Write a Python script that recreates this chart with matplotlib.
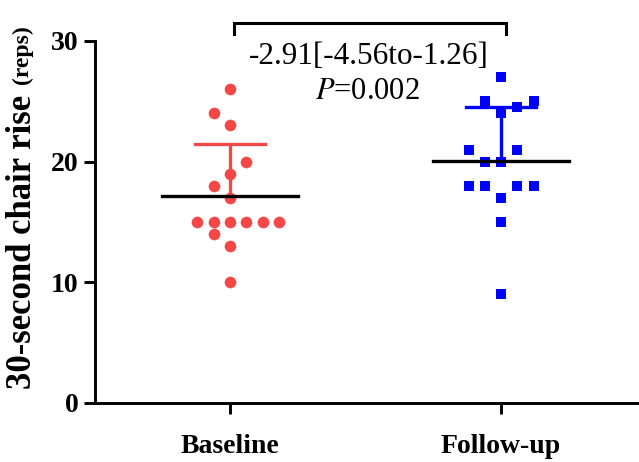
import numpy as np
import matplotlib.pyplot as plt

plt.rcParams['font.family'] = ['Liberation Serif', 'DejaVu Serif']
plt.rcParams['mathtext.fontset'] = 'stix'

# data
groups = ['Baseline', 'Follow-up']
baseline = [26, 24, 23, 20, 19, 18, 17, 15, 15, 15, 15, 15, 15, 14, 13, 10]
follow_up = [27, 25, 24.5, 25, 24, 21, 21, 20, 20, 18, 18, 18, 18, 17, 15, 9]
diff_text = '-2.91[-4.56to-1.26]'
p_text = r'$P$=0.002'
yticks = [0, 10, 20, 30]

# horizontal scatter slot of each point (same order as the values)
baseline_slots = [0, -1, 0, 1, 0, -1, 0, -2, -1, 0, 1, 2, 3, -1, 0, 0]
follow_slots = [0, -1, 1, 2, 0, -2, 1, -1, 0, -2, -1, 1, 2, 0, 0, 0]

fig = plt.figure(figsize=(6.39, 4.62), dpi=100)
ax = fig.add_axes([95 / 639, 59 / 462, 544 / 639, 362 / 462])

slot_w = 0.06
series = [
    (baseline, baseline_slots, '#f44848', 'o', 8.4),
    (follow_up, follow_slots, '#0000ff', 's', 7.4),
]
for i, (vals, slots, col, mk, ms) in enumerate(series):
    vals = np.array(vals, dtype=float)
    xs = i + np.array(slots) * slot_w
    ax.plot(xs, vals, mk, color=col, markersize=ms, markeredgewidth=0,
            linestyle='none', zorder=2, clip_on=False)
    m = vals.mean()
    sd = vals.std(ddof=1)
    # SD whisker (upper side only) and cap
    ax.plot([i, i], [m, m + sd], color=col, lw=2.4, zorder=3, solid_capstyle='butt')
    ax.plot([i - 0.13, i + 0.13], [m + sd, m + sd], color=col, lw=2.4, zorder=3)
    # mean line
    ax.plot([i - 0.252, i + 0.252], [m, m], color='black', lw=2.4, zorder=4)

# comparison bracket
ax.plot([0.016, 0.016, 1.017, 1.017], [30.6, 31.5, 31.5, 30.6], color='black',
        lw=2.2, clip_on=False, solid_joinstyle='miter')
ax.text(0.512, 28.75, diff_text, ha='center', va='center', fontsize=22.5)
ax.text(0.506, 25.85, p_text, ha='center', va='center', fontsize=22)

ax.set_xlim(-0.498, 1.509)
ax.set_ylim(0, 30)
ax.set_xticks([0, 1])
ax.set_xticklabels(groups, fontsize=20, fontweight='bold')
ax.set_yticks(yticks)
ax.set_yticklabels([str(t) for t in yticks], fontsize=20, fontweight='bold')

for s in ['top', 'right']:
    ax.spines[s].set_visible(False)
for s in ['left', 'bottom']:
    ax.spines[s].set_linewidth(2.1)
ax.tick_params(axis='y', length=8, width=2.1, pad=4)
ax.tick_params(axis='x', length=8, width=2.1, pad=14)

ylab = ax.set_ylabel('30-second chair rise', fontsize=25, fontweight='bold')
ax.yaxis.set_label_coords(-0.103, 0.445)
ax.annotate('(reps)', xy=(0.5, 1.0), xycoords=ylab, xytext=(0, 8),
            textcoords='offset points', rotation=90, ha='center', va='bottom',
            fontsize=17, fontweight='bold')

fig.savefig('out.png', dpi=100)
